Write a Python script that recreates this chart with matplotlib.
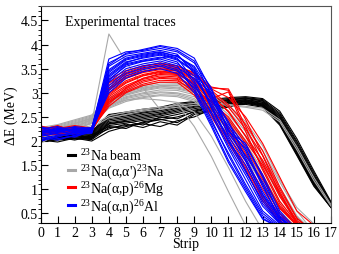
import matplotlib
matplotlib.use("Agg")
import matplotlib.pyplot as plt
from matplotlib.lines import Line2D
from matplotlib.ticker import MultipleLocator
import numpy as np

plt.rcParams["font.family"] = ["Liberation Serif", "DejaVu Serif"]
plt.rcParams["mathtext.fontset"] = "custom"
plt.rcParams["mathtext.rm"] = "Liberation Serif"

strips = np.arange(18)

# 23Na beam
beam = [
    [2.15, 2.18, 2.22, 2.20, 2.55, 2.60, 2.66, 2.70, 2.78, 2.82, 2.86, 2.90, 2.92, 2.88, 2.62, 2.05, 1.38, 0.74],
    [2.12, 2.16, 2.19, 2.18, 2.52, 2.57, 2.62, 2.68, 2.75, 2.80, 2.84, 2.88, 2.90, 2.86, 2.58, 2.00, 1.34, 0.72],
    [2.10, 2.14, 2.20, 2.16, 2.50, 2.55, 2.60, 2.66, 2.72, 2.78, 2.82, 2.86, 2.89, 2.84, 2.55, 1.97, 1.30, 0.71],
    [2.08, 2.12, 2.15, 2.14, 2.47, 2.52, 2.58, 2.63, 2.70, 2.76, 2.80, 2.85, 2.88, 2.83, 2.52, 1.93, 1.27, 0.70],
    [2.06, 2.10, 2.14, 2.12, 2.44, 2.49, 2.55, 2.60, 2.68, 2.74, 2.79, 2.84, 2.86, 2.81, 2.50, 1.90, 1.24, 0.69],
    [2.05, 2.08, 2.12, 2.10, 2.41, 2.46, 2.52, 2.57, 2.65, 2.72, 2.77, 2.82, 2.85, 2.80, 2.47, 1.87, 1.21, 0.68],
    [2.03, 2.07, 2.10, 2.09, 2.38, 2.43, 2.49, 2.55, 2.62, 2.70, 2.75, 2.80, 2.84, 2.78, 2.45, 1.84, 1.18, 0.67],
    [2.02, 2.05, 2.08, 2.07, 2.35, 2.40, 2.46, 2.52, 2.59, 2.67, 2.73, 2.79, 2.82, 2.77, 2.42, 1.80, 1.15, 0.66],
    [2.00, 2.04, 2.06, 2.05, 2.32, 2.37, 2.43, 2.48, 2.55, 2.64, 2.71, 2.77, 2.81, 2.75, 2.40, 1.77, 1.12, 0.64],
    [1.99, 2.02, 2.05, 2.03, 2.28, 2.32, 2.38, 2.44, 2.50, 2.60, 2.69, 2.75, 2.79, 2.73, 2.37, 1.74, 1.10, 0.63],
    [2.00, 2.08, 2.02, 2.10, 2.25, 2.35, 2.28, 2.40, 2.33, 2.55, 2.62, 2.72, 2.78, 2.72, 2.35, 1.72, 1.08, 0.62],
    [2.02, 1.98, 2.06, 2.00, 2.20, 2.30, 2.36, 2.30, 2.42, 2.50, 2.66, 2.70, 2.80, 2.74, 2.38, 1.78, 1.12, 0.63],
    [2.07, 2.11, 2.04, 2.13, 2.30, 2.26, 2.40, 2.45, 2.38, 2.58, 2.64, 2.74, 2.76, 2.70, 2.33, 1.70, 1.06, 0.62],
    [2.04, 2.09, 2.13, 2.06, 2.36, 2.41, 2.33, 2.50, 2.46, 2.62, 2.70, 2.78, 2.83, 2.76, 2.44, 1.82, 1.16, 0.65],
]

# 23Na(a,a')23Na
inelastic = [
    [2.05, 2.12, 2.22, 2.38, 4.22, 3.65, 3.10, 2.65, 2.78, 2.30, 1.68, 0.95, 0.25, 0.05, 0.05, 0.05, 0.05, 0.05],
    [2.10, 2.18, 2.28, 2.45, 2.75, 2.85, 2.88, 2.85, 2.80, 2.60, 2.10, 1.45, 0.75, 0.15, 0.05, 0.05, 0.05, 0.05],
    [2.12, 2.18, 2.24, 2.32, 2.52, 2.60, 2.66, 2.70, 2.74, 2.78, 2.80, 2.76, 2.72, 2.68, 2.44, 1.88, 1.24, 0.68],
    [2.08, 2.14, 2.20, 2.28, 2.48, 2.55, 2.62, 2.66, 2.70, 2.74, 2.77, 2.74, 2.70, 2.64, 2.40, 1.82, 1.18, 0.65],
    [2.25, 2.32, 2.42, 2.52, 2.88, 3.02, 3.12, 3.18, 3.18, 3.12, 2.95, 2.70, 2.30, 1.80, 1.15, 0.55, 0.10, 0.05],
    [2.22, 2.30, 2.40, 2.50, 2.85, 3.00, 3.10, 3.15, 3.15, 3.08, 2.90, 2.62, 2.20, 1.70, 1.05, 0.45, 0.10, 0.05],
    [2.20, 2.28, 2.38, 2.48, 2.82, 2.98, 3.06, 3.12, 3.12, 3.05, 2.85, 2.55, 2.12, 1.60, 0.95, 0.40, 0.10, 0.05],
    [2.18, 2.26, 2.36, 2.46, 2.80, 2.95, 3.04, 3.10, 3.08, 3.00, 2.80, 2.48, 2.02, 1.50, 0.85, 0.35, 0.10, 0.05],
    [2.15, 2.24, 2.34, 2.44, 2.78, 2.92, 3.00, 3.06, 3.05, 2.96, 2.75, 2.40, 1.95, 1.40, 0.75, 0.30, 0.10, 0.05],
    [2.12, 2.22, 2.32, 2.42, 2.75, 2.90, 2.98, 3.02, 3.00, 2.92, 2.70, 2.35, 1.88, 1.30, 0.65, 0.25, 0.10, 0.05],
    [2.10, 2.20, 2.30, 2.40, 2.72, 2.88, 2.95, 3.00, 2.98, 2.88, 2.65, 2.28, 1.80, 1.22, 0.55, 0.20, 0.10, 0.05],
    [2.05, 2.18, 2.28, 2.38, 2.70, 2.85, 2.92, 2.96, 2.95, 2.85, 2.60, 2.22, 1.72, 1.15, 0.50, 0.15, 0.10, 0.05],
    [1.95, 2.15, 2.26, 2.36, 2.68, 2.82, 2.90, 2.94, 2.92, 2.82, 2.55, 2.15, 1.65, 1.10, 0.60, 0.35, 0.20, 0.05],
    [2.28, 2.34, 2.44, 2.54, 2.90, 3.05, 3.15, 3.22, 3.20, 3.15, 3.00, 2.75, 2.40, 1.90, 1.20, 0.62, 0.28, 0.05],
    [2.16, 2.25, 2.36, 2.47, 2.84, 2.96, 3.08, 3.14, 3.10, 3.02, 2.78, 2.42, 2.00, 1.55, 0.90, 0.42, 0.10, 0.05],
]

# 23Na(a,p)26Mg
proton = [
    [2.30, 2.26, 2.32, 2.27, 3.28, 3.46, 3.56, 3.60, 3.55, 3.42, 3.12, 3.05, 2.30, 1.55, 0.85, 0.32, 0.10, 0.05],
    [2.25, 2.30, 2.22, 2.25, 3.20, 3.40, 3.50, 3.55, 3.50, 3.35, 3.10, 3.08, 2.45, 1.70, 1.00, 0.40, 0.10, 0.05],
    [2.20, 2.28, 2.24, 2.22, 3.10, 3.35, 3.45, 3.52, 3.48, 3.30, 2.85, 2.40, 1.85, 1.25, 0.60, 0.25, 0.10, 0.05],
    [2.18, 2.22, 2.30, 2.24, 3.05, 3.30, 3.42, 3.48, 3.45, 3.25, 2.95, 2.60, 2.10, 1.45, 0.75, 0.30, 0.10, 0.05],
    [2.15, 2.20, 2.26, 2.21, 3.00, 3.25, 3.38, 3.45, 3.42, 3.15, 2.70, 2.20, 1.60, 1.00, 0.45, 0.20, 0.10, 0.05],
    [2.12, 2.18, 2.20, 2.20, 2.95, 3.20, 3.35, 3.42, 3.40, 3.18, 2.82, 2.45, 1.95, 1.30, 0.62, 0.25, 0.10, 0.05],
    [2.10, 2.15, 2.18, 2.19, 2.92, 3.15, 3.30, 3.38, 3.36, 3.05, 2.60, 2.10, 1.50, 0.85, 0.38, 0.20, 0.10, 0.05],
    [2.22, 2.12, 2.25, 2.23, 2.88, 3.12, 3.28, 3.35, 3.33, 3.12, 2.75, 2.30, 1.75, 1.10, 0.50, 0.20, 0.10, 0.05],
    [2.28, 2.20, 2.15, 2.26, 2.85, 3.08, 3.25, 3.32, 3.30, 3.10, 2.80, 2.50, 2.00, 1.50, 0.90, 0.35, 0.10, 0.05],
    [2.14, 2.24, 2.28, 2.22, 2.82, 3.05, 3.22, 3.30, 3.28, 3.00, 2.55, 2.00, 1.45, 0.80, 0.35, 0.15, 0.10, 0.05],
    [2.20, 2.26, 2.18, 2.24, 2.80, 3.02, 3.18, 3.26, 3.25, 3.05, 2.65, 2.25, 1.70, 1.20, 0.65, 0.28, 0.10, 0.05],
    [2.32, 2.18, 2.28, 2.25, 2.72, 3.00, 3.15, 3.22, 3.22, 2.95, 2.50, 1.95, 1.40, 0.75, 0.32, 0.15, 0.10, 0.05],
    [2.16, 2.30, 2.24, 2.28, 3.15, 3.38, 3.50, 3.58, 3.52, 3.38, 3.05, 2.75, 2.35, 1.80, 1.05, 0.40, 0.10, 0.05],
    [2.26, 2.16, 2.30, 2.20, 3.22, 3.42, 3.54, 3.62, 3.56, 3.40, 3.08, 2.90, 2.50, 1.95, 1.25, 0.55, 0.25, 0.05],
    [2.24, 2.32, 2.20, 2.26, 2.98, 3.22, 3.36, 3.44, 3.40, 3.22, 2.92, 2.62, 2.10, 1.60, 0.95, 0.30, 0.10, 0.05],
    [2.18, 2.14, 2.28, 2.21, 3.08, 3.32, 3.44, 3.50, 3.46, 3.28, 3.00, 2.70, 2.25, 1.70, 0.90, 0.28, 0.10, 0.05],
    [2.21, 2.27, 2.16, 2.23, 2.76, 3.10, 3.30, 3.40, 3.38, 3.20, 2.88, 3.02, 2.20, 1.40, 0.70, 0.25, 0.10, 0.05],
]

# 23Na(a,n)26Al
neutron = [
    [2.28, 2.22, 2.30, 2.26, 3.70, 3.85, 3.88, 3.96, 3.88, 3.66, 2.95, 2.40, 1.65, 0.95, 0.40, 0.10, 0.05, 0.05],
    [2.25, 2.30, 2.20, 2.27, 3.62, 3.80, 3.86, 3.92, 3.85, 3.62, 3.10, 2.20, 1.95, 1.25, 0.45, 0.10, 0.05, 0.05],
    [2.20, 2.26, 2.28, 2.24, 3.55, 3.76, 3.82, 3.88, 3.80, 3.40, 2.70, 2.05, 1.40, 0.70, 0.30, 0.10, 0.05, 0.05],
    [2.18, 2.24, 2.22, 2.23, 3.48, 3.72, 3.80, 3.85, 3.76, 3.52, 2.85, 2.30, 1.80, 1.05, 0.42, 0.10, 0.05, 0.05],
    [2.15, 2.20, 2.26, 2.22, 3.42, 3.68, 3.76, 3.82, 3.72, 3.25, 2.55, 1.85, 1.20, 0.55, 0.25, 0.10, 0.05, 0.05],
    [2.12, 2.18, 2.24, 2.21, 3.38, 3.64, 3.72, 3.78, 3.68, 3.44, 2.95, 2.10, 1.58, 0.88, 0.34, 0.10, 0.05, 0.05],
    [2.10, 2.16, 2.20, 2.20, 3.32, 3.60, 3.68, 3.74, 3.64, 3.20, 2.45, 1.70, 1.05, 0.45, 0.20, 0.10, 0.05, 0.05],
    [2.05, 2.12, 2.18, 2.19, 3.28, 3.55, 3.65, 3.70, 3.60, 3.35, 2.75, 2.00, 1.50, 0.82, 0.30, 0.10, 0.05, 0.05],
    [2.02, 2.10, 2.15, 2.22, 3.22, 3.50, 3.60, 3.66, 3.56, 3.05, 2.35, 1.60, 1.00, 0.40, 0.20, 0.10, 0.05, 0.05],
    [2.08, 2.02, 2.12, 2.20, 3.15, 3.45, 3.56, 3.62, 3.52, 3.30, 2.80, 2.15, 1.70, 1.15, 0.50, 0.10, 0.05, 0.05],
    [2.14, 2.05, 2.10, 2.18, 3.10, 3.40, 3.52, 3.58, 3.48, 3.15, 2.60, 1.90, 1.30, 0.65, 0.28, 0.10, 0.05, 0.05],
    [2.22, 2.14, 2.08, 2.22, 3.05, 3.35, 3.48, 3.55, 3.45, 3.10, 2.40, 1.75, 1.10, 0.50, 0.22, 0.10, 0.05, 0.05],
    [2.26, 2.18, 2.26, 2.24, 3.00, 3.30, 3.44, 3.50, 3.40, 3.00, 2.30, 1.55, 0.95, 0.38, 0.20, 0.10, 0.05, 0.05],
    [2.18, 2.28, 2.16, 2.25, 3.58, 3.82, 3.90, 3.98, 3.92, 3.72, 3.05, 2.35, 1.90, 1.30, 0.55, 0.15, 0.05, 0.05],
    [2.00, 2.08, 2.18, 2.16, 3.35, 3.62, 3.74, 3.80, 3.70, 3.46, 2.90, 2.25, 1.60, 0.90, 0.40, 0.12, 0.05, 0.05],
    [2.30, 2.20, 2.25, 2.28, 3.45, 3.70, 3.78, 3.84, 3.75, 3.55, 3.00, 2.20, 1.85, 1.10, 0.35, 0.10, 0.05, 0.05],
    [2.16, 2.23, 2.12, 2.21, 3.25, 3.58, 3.66, 3.72, 3.78, 3.48, 2.68, 1.98, 1.36, 0.76, 0.30, 0.10, 0.05, 0.05],
]

groups = [
    (beam, "black", r"$^{23}$Na beam"),
    (inelastic, "#a8a8a8", r"$^{23}$Na(α,α')$^{23}$Na"),
    (proton, "#ff0000", r"$^{23}$Na(α,p)$^{26}$Mg"),
    (neutron, "#0000ff", r"$^{23}$Na(α,n)$^{26}$Al"),
]

fig = plt.figure(figsize=(3.39, 2.55), dpi=100)
ax = fig.add_axes([0.1195, 0.1216, 0.8569, 0.8509])

handles = []
for traces, color, label in groups:
    for tr in traces:
        ax.plot(strips, tr, color=color, lw=0.8)
    handles.append(Line2D([], [], color=color, lw=2.2, label=label))

ax.set_xlim(0, 17)
ax.set_ylim(0.3, 4.8)
ax.xaxis.set_major_locator(MultipleLocator(1))
ax.yaxis.set_minor_locator(MultipleLocator(0.1))
ax.tick_params(direction="in", labelsize=10, pad=2)
ax.tick_params(which="major", length=5, width=0.8)
ax.tick_params(which="minor", length=2.5, width=0.6)
ax.set_yticks([0.5, 1, 1.5, 2, 2.5, 3, 3.5, 4, 4.5])
ax.set_yticklabels(["0.5", "1", "1.5", "2", "2.5", "3", "3.5", "4", "4.5"])
for side in ["top", "right"]:
    ax.spines[side].set_color("#555555")

ax.set_xlabel("Strip", fontsize=10, labelpad=-1)
ax.set_ylabel("ΔE (MeV)", fontsize=10, labelpad=2)
ax.text(0.085, 0.93, "Experimental traces", transform=ax.transAxes,
        fontsize=10, va="center", ha="left")

ax.legend(handles=handles, loc="lower left", bbox_to_anchor=(0.065, 0.0),
          frameon=False, fontsize=10, handlelength=0.55, handletextpad=0.3,
          labelspacing=-0.12, borderpad=0.1)

fig.savefig("out.png", dpi=100)
